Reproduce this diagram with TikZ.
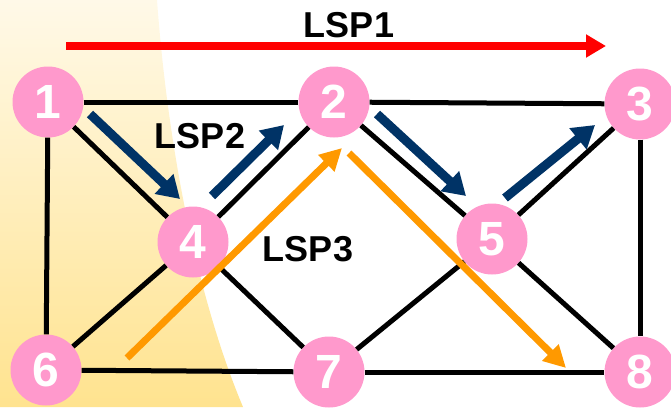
\documentclass[tikz,border=0pt]{standalone}
\usepackage{fontspec}
\setmainfont{Liberation Sans}
\usetikzlibrary{arrows.meta}
\definecolor{nodepink}{RGB}{255,153,204}
\definecolor{lspred}{RGB}{255,0,0}
\definecolor{lspblue}{RGB}{0,51,102}
\definecolor{lsporange}{RGB}{255,153,0}
\definecolor{bgtop}{RGB}{255,249,232}
\definecolor{bgbottom}{RGB}{255,227,143}
\tikzset{
  router/.style={circle, fill=nodepink, minimum size=71pt, inner sep=0pt,
    text=white, font=\bfseries\fontsize{48}{48}\selectfont},
  link/.style={line width=5pt, black},
  lsplabel/.style={font=\bfseries\fontsize{36}{36}\selectfont, text=black},
  lspone/.style={line width=8pt, lspred, -{Triangle[length=20pt,width=22pt]}},
  lsptwo/.style={line width=9pt, lspblue, -{Triangle[length=22pt,width=26pt]}},
  lspthree/.style={line width=7pt, lsporange, -{Triangle[length=22pt,width=22pt]}},
}
\begin{document}
\begin{tikzpicture}[x=1pt,y=-1pt]
  \useasboundingbox (0,0) rectangle (671,407);
  \clip (0,0) rectangle (671,407);
  % shaded band on the left
  \shade[top color=bgtop, bottom color=bgbottom]
    (0,0) -- (157,0) .. controls (168,150) and (198,300) .. (243,407) -- (0,407) -- cycle;

  % routers
  \node[router] (n1) at (48,102) {1};
  \node[router] (n2) at (334,102) {2};
  \node[router] (n3) at (640,104) {3};
  \node[router] (n4) at (193,242) {4};
  \node[router] (n5) at (492,239) {5};
  \node[router] (n6) at (46,370) {6};
  \node[router] (n7) at (329,372) {7};
  \node[router] (n8) at (640,372) {8};

  % links
  \foreach \a/\b in {n1/n2, n2/n3, n1/n6, n3/n8, n6/n7, n7/n8,
                     n1/n4, n4/n2, n2/n5, n5/n3, n6/n4, n4/n7, n7/n5, n5/n8}
    \draw[link] (\a) -- (\b);

  % path end points
  \coordinate (r0) at (66,46);
  \coordinate (r1) at (606,46);
  \coordinate (b0) at (90,114);
  \coordinate (b1) at (180,199);
  \coordinate (b2) at (212,196);
  \coordinate (b3) at (284,125);
  \coordinate (b4) at (377,114);
  \coordinate (b5) at (466,196);
  \coordinate (b6) at (505,198);
  \coordinate (b7) at (595,125);
  \coordinate (o0) at (127,358);
  \coordinate (o1) at (342,148);
  \coordinate (o2) at (349,153);
  \coordinate (o3) at (566,368);

  % label switched paths
  \draw[lspone] (r0) -- (r1);
  \draw[lsptwo] (b0) -- (b1);
  \draw[lsptwo] (b2) -- (b3);
  \draw[lsptwo] (b4) -- (b5);
  \draw[lsptwo] (b6) -- (b7);
  \draw[lspthree] (o0) -- (o1);
  \draw[lspthree] (o2) -- (o3);

  \node[lsplabel] (l1) at (349,25) {LSP1};
  \node[lsplabel] (l2) at (200,136) {LSP2};
  \node[lsplabel] (l3) at (308,249) {LSP3};
\end{tikzpicture}
\end{document}
